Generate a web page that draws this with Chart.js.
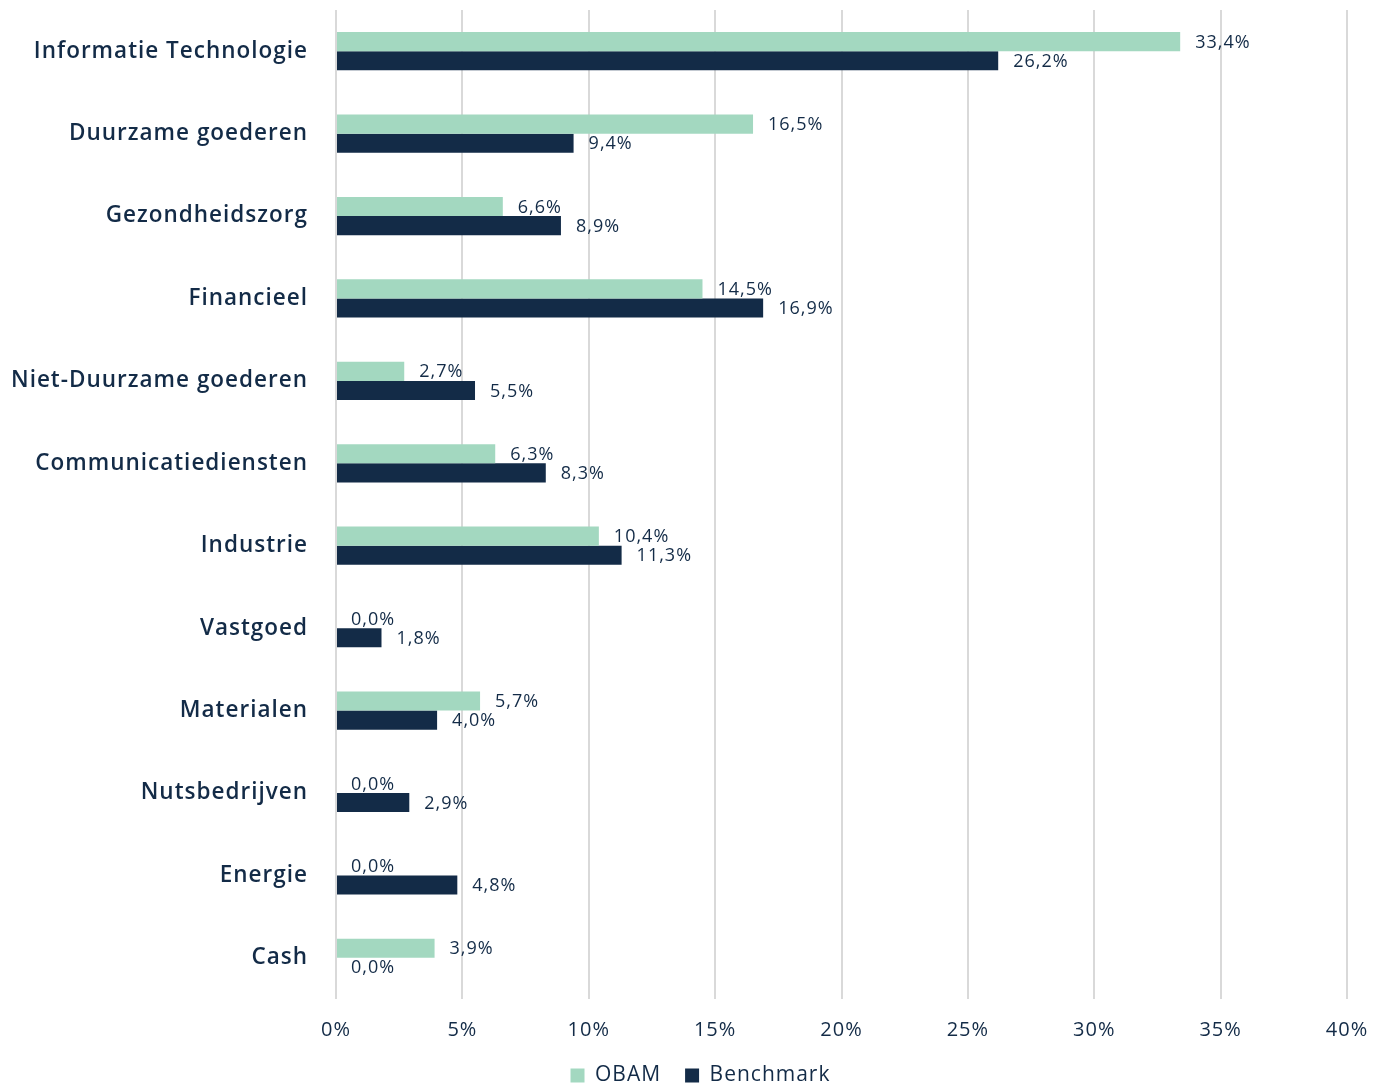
<!DOCTYPE html>
<html>
<head>
<meta charset="utf-8">
<script src="https://cdn.jsdelivr.net/npm/chart.js@4"></script>
<style>
  body { margin: 0; background: #fff; }
  #wrap { width: 1375px; height: 1084px; position: relative; }
</style>
</head>
<body>
<div id="wrap"><canvas id="sectorChart"></canvas></div>
<script>
const categories = [
  "Informatie Technologie", "Duurzame goederen", "Gezondheidszorg", "Financieel",
  "Niet-Duurzame goederen", "Communicatiediensten", "Industrie", "Vastgoed",
  "Materialen", "Nutsbedrijven", "Energie", "Cash"
];
const obamValues = [33.4, 16.5, 6.6, 14.5, 2.7, 6.3, 10.4, 0.0, 5.7, 0.0, 0.0, 3.9];
const benchmarkValues = [26.2, 9.4, 8.9, 16.9, 5.5, 8.3, 11.3, 1.8, 4.0, 2.9, 4.8, 0.0];
const xTicks = [0, 5, 10, 15, 20, 25, 30, 35, 40];

const navy = '#132B47';
const mint = '#A3D8C0';

// a bit of letter spacing for all text, like the original
const spacing = {
  id: 'spacing',
  beforeUpdate(chart) { chart.ctx.letterSpacing = '1px'; },
  beforeDraw(chart) { chart.ctx.letterSpacing = '1px'; }
};

// legend sits a little right of the canvas centre in the original
const legendShift = {
  id: 'legendShift',
  afterLayout(chart) {
    if (chart.legend) { chart.legend.left += 27; chart.legend.right += 27; }
  }
};

// draws the value next to each bar, dutch decimal comma
const valueLabels = {
  id: 'valueLabels',
  afterDatasetsDraw(chart) {
    const ctx = chart.ctx;
    ctx.save();
    ctx.font = '18px "Open Sans"';
    ctx.fillStyle = navy;
    ctx.textAlign = 'left';
    ctx.textBaseline = 'middle';
    chart.data.datasets.forEach((ds, i) => {
      chart.getDatasetMeta(i).data.forEach((bar, j) => {
        const txt = ds.data[j].toFixed(1).replace('.', ',') + '%';
        ctx.fillText(txt, bar.x + 15, bar.y + 1);
      });
    });
    ctx.restore();
  }
};

const sectorChart = new Chart(document.getElementById('sectorChart'), {
  type: 'bar',
  data: {
    labels: categories,
    datasets: [
      { label: 'OBAM', data: obamValues, backgroundColor: mint, borderWidth: 0,
        categoryPercentage: 0.465, barPercentage: 1 },
      { label: 'Benchmark', data: benchmarkValues, backgroundColor: navy, borderWidth: 0,
        categoryPercentage: 0.465, barPercentage: 1 }
    ]
  },
  options: {
    indexAxis: 'y',
    responsive: true,
    maintainAspectRatio: false,
    animation: false,
    layout: { padding: { top: 10, right: 28, left: 0, bottom: -12 } },
    scales: {
      x: {
        min: 0, max: 40,
        afterBuildTicks: (axis) => { axis.ticks = xTicks.map(v => ({ value: v })); },
        afterFit: (axis) => { axis.height = 42; axis.paddingLeft = 0; axis.paddingRight = 0; },
        grid: { color: '#d9d9d9', lineWidth: 2, drawTicks: false },
        border: { display: false },
        ticks: {
          color: navy, font: { family: 'Open Sans', size: 20 }, padding: 19,
          callback: (v) => v + '%'
        }
      },
      y: {
        afterFit: (axis) => { axis.width = 336; axis.paddingTop = 0; axis.paddingBottom = 0; },
        grid: { display: false, drawTicks: false },
        border: { display: false },
        ticks: { color: navy, font: { family: 'Open Sans', size: 22.5, weight: '600' }, padding: 28 }
      }
    },
    plugins: {
      legend: {
        position: 'bottom',
        labels: { color: navy, font: { family: 'Open Sans', size: 21 }, boxWidth: 14, boxHeight: 14, padding: 24 }
      },
      tooltip: { enabled: false }
    }
  },
  plugins: [spacing, legendShift, valueLabels]
});
</script>
</body>
</html>
